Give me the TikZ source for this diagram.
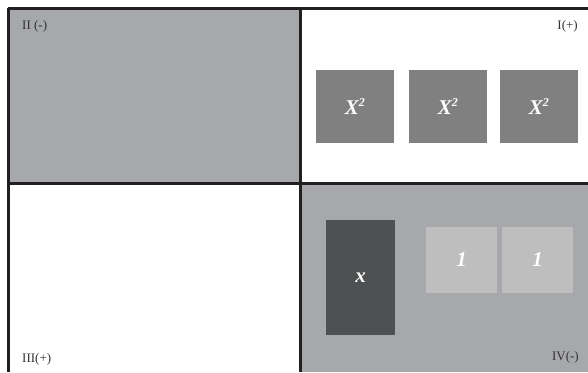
\documentclass[tikz,border=0pt]{standalone}
\usepackage{fontspec}
\setmainfont{Liberation Serif}
\begin{document}
\begin{tikzpicture}[x=1pt,y=-1pt,
  quadfill/.style={fill=quadgrey,draw=none},
  sqbox/.style={fill=sqgrey,draw=none,minimum width=78pt,minimum height=73pt,inner sep=0pt,text=white,font=\fontsize{21}{21}\selectfont\bfseries\itshape},
  onebox/.style={fill=onegrey,draw=none,minimum width=71pt,minimum height=66pt,inner sep=0pt,text=white,font=\fontsize{21}{21}\selectfont\bfseries\itshape},
  xbox/.style={fill=xgrey,draw=none,minimum width=69pt,minimum height=115pt,inner sep=0pt,text=white,font=\fontsize{21}{21}\selectfont\bfseries\itshape},
  quadlabel/.style={font=\fontsize{13}{13}\selectfont,text=labelgrey,inner sep=0pt},
  divline/.style={draw=linedark,line width=3pt}]
\definecolor{quadgrey}{HTML}{A7A8AC}
\definecolor{sqgrey}{HTML}{808080}
\definecolor{onegrey}{HTML}{BEBEBE}
\definecolor{xgrey}{HTML}{4F5052}
\definecolor{linedark}{HTML}{231F20}
\definecolor{labelgrey}{HTML}{333333}
\useasboundingbox (0,0) rectangle (588,372);
\fill[white] (0,0) rectangle (588,372);
% shaded quadrants
\path[quadfill] (8,8) rectangle (300,183);
\path[quadfill] (300,183) rectangle (588,372);
% dividing lines
\draw[divline] (8,8) -- (588,8);
\draw[divline] (8,8) -- (8,372);
\draw[divline] (8,183) -- (588,183);
\draw[divline] (300,8) -- (300,372);
% quadrant labels
\node[quadlabel,anchor=west] (q2) at (22,26) {II (-)};
\node[quadlabel,anchor=east] (q1) at (578,26) {I(+)};
\node[quadlabel,anchor=west] (q3) at (22,359) {III(+)};
\node[quadlabel,anchor=east] (q4) at (579,357) {IV(-)};
% X^2 tiles
\node[sqbox] (s1) at (355,106.5) {X\textsuperscript{\fontsize{12}{12}\selectfont 2}};
\node[sqbox] (s2) at (448,106.5) {X\textsuperscript{\fontsize{12}{12}\selectfont 2}};
\node[sqbox] (s3) at (539,106.5) {X\textsuperscript{\fontsize{12}{12}\selectfont 2}};
% x tile
\node[xbox] (xt) at (360.5,277.5) {x};
% unit tiles
\node[onebox] (u1) at (461.5,260) {1};
\node[onebox] (u2) at (537.5,260) {1};
\end{tikzpicture}
\end{document}
